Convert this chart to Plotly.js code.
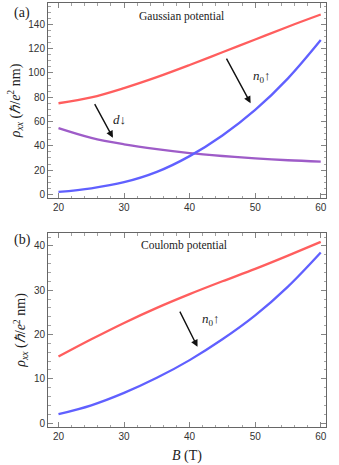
<!DOCTYPE html>
<html>
<head>
<meta charset="utf-8">
<script src="https://cdn.plot.ly/plotly-3.0.1.min.js"></script>
<style>
  html, body { margin: 0; padding: 0; background: #fff; }
  #chart { width: 339px; height: 465px; }
</style>
</head>
<body>
<div id="chart"></div>
<script>
// magnetic field B (T)
var B = [20, 25, 30, 35, 40, 45, 50, 55, 60];

// (a) Gaussian potential
var gaussRed    = [75, 79.8, 87.5, 96.5, 106.5, 117, 127.5, 138, 148];
var gaussBlue   = [2, 5, 10, 18.5, 31.5, 48.5, 69.5, 95.5, 127];
var gaussPurple = [54.5, 46.5, 41.2, 37.2, 34, 31.6, 29.6, 28.1, 27];

// (b) Coulomb potential
var coulRed  = [15, 18.9, 22.6, 26, 29.1, 32, 34.8, 37.8, 40.9];
var coulBlue = [2, 4, 6.8, 10.2, 14.2, 18.9, 24.3, 30.8, 38.5];

var red = 'rgb(255,94,94)';
var blue = 'rgb(96,96,255)';
var purple = 'rgb(158,92,200)';

function curve(x, y, color, xa, ya) {
    return {
        x: x, y: y, xaxis: xa, yaxis: ya,
        type: 'scatter', mode: 'lines',
        line: { color: color, width: 2.3, shape: 'spline', smoothing: 1 },
        showlegend: false, hoverinfo: 'skip'
    };
}

var data = [
    curve(B, gaussRed, red, 'x', 'y'),
    curve(B, gaussPurple, purple, 'x', 'y'),
    curve(B, gaussBlue, blue, 'x', 'y'),
    curve(B, coulRed, red, 'x2', 'y2'),
    curve(B, coulBlue, blue, 'x2', 'y2')
];

var frame = '#666';
var tickFont = { family: 'Liberation Sans, Arial, sans-serif', size: 10, color: '#333' };
var serif = 'Liberation Serif, Times New Roman, serif';
var ytitle = '<i>ρ</i><sub><i>xx</i></sub> (<i>ℏ</i>/<i>e</i><sup>2</sup> nm)';

function xax(anchor, title) {
    return {
        anchor: anchor, range: [18.4, 60.8],
        showgrid: false, zeroline: false,
        showline: true, linecolor: frame, linewidth: 1, mirror: 'allticks',
        ticks: 'inside', ticklen: 5, tickcolor: frame, tickwidth: 0.8,
        dtick: 10, tick0: 0, tickfont: tickFont,
        minor: { dtick: 2, ticks: 'inside', ticklen: 2.5, tickcolor: frame, tickwidth: 0.6 },
        title: { text: title, font: { family: serif, size: 14, color: '#222' }, standoff: 9 }
    };
}

function yax(anchor, domain, range, dtick, minorDtick) {
    return {
        anchor: anchor, domain: domain, range: range,
        showgrid: false, zeroline: false,
        showline: true, linecolor: frame, linewidth: 1, mirror: 'allticks',
        ticks: 'inside', ticklen: 5, tickcolor: frame, tickwidth: 0.8,
        dtick: dtick, tick0: 0, tickfont: tickFont,
        minor: { dtick: minorDtick, ticks: 'inside', ticklen: 2.5, tickcolor: frame, tickwidth: 0.6 },
        title: { text: ytitle, font: { family: serif, size: 14, color: '#222' }, standoff: 4 }
    };
}

function arrow(xref, yref, x0, y0, x1, y1) {
    return {
        xref: xref, yref: yref, axref: xref, ayref: yref,
        x: x1, y: y1, ax: x0, ay: y0, text: '',
        showarrow: true, arrowhead: 2, arrowsize: 1, arrowwidth: 1.4, arrowcolor: '#111'
    };
}

function label(xref, yref, x, y, text, size) {
    return {
        xref: xref, yref: yref, x: x, y: y, text: text, showarrow: false,
        font: { family: serif, size: size, color: '#222' }
    };
}

var layout = {
    width: 339, height: 465,
    margin: { l: 48, r: 13, t: 3, b: 38 },
    paper_bgcolor: '#fff', plot_bgcolor: '#fff',
    xaxis: xax('y', ''),
    yaxis: yax('x', [0.54, 1], [-3, 157.5], 20, 5),
    xaxis2: xax('y2', '<i>B</i> (T)'),
    yaxis2: yax('x2', [0, 0.4575], [-0.9, 42.9], 10, 2),
    annotations: [
        label('paper', 'paper', -0.13, 1.0, '(a)', 14),
        label('paper', 'paper', -0.13, 0.44, '(b)', 14),
        label('x', 'y', 38.7, 146, 'Gaussian potential', 11.5),
        label('x2', 'y2', 39.1, 40, 'Coulomb potential', 11.5),
        arrow('x', 'y', 25.4, 75.5, 28.3, 46.6),
        label('x', 'y', 29.3, 62, '<i>d</i>↓', 13),
        arrow('x', 'y', 45.5, 113, 49.3, 75),
        label('x', 'y', 51, 97, '<i>n</i><sub>0</sub>↑', 13),
        arrow('x2', 'y2', 38.4, 25.5, 41.2, 17.2),
        label('x2', 'y2', 43.3, 23.4, '<i>n</i><sub>0</sub>↑', 13)
    ]
};

Plotly.newPlot('chart', data, layout, { displayModeBar: false, staticPlot: true });
</script>
</body>
</html>
